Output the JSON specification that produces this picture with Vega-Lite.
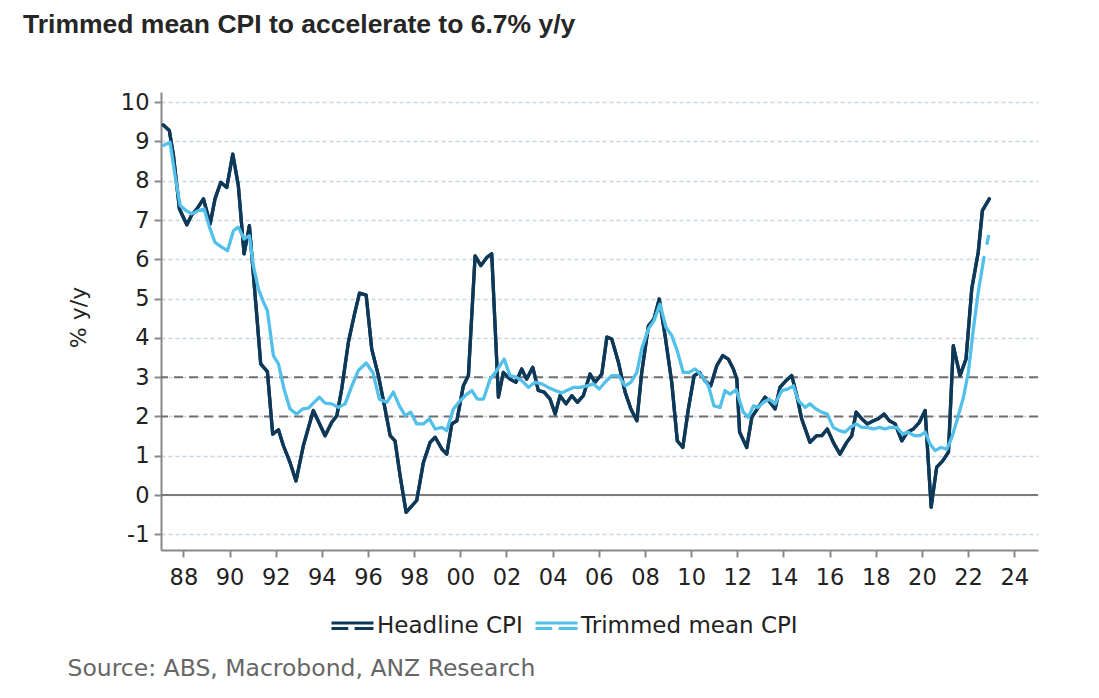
{
  "$schema": "https://vega.github.io/schema/vega-lite/v6.json",
  "width": 877,
  "height": 458,
  "autosize": {"type": "none"},
  "padding": {"left": 161, "top": 92, "right": 61, "bottom": 148},
  "background": "white",
  "config": {"view": {"stroke": null}, "font": "DejaVu Sans"},
  "title": {
    "text": "Trimmed mean CPI to accelerate to 6.7% y/y",
    "anchor": "start",
    "frame": "group",
    "dx": -138,
    "offset": 32,
    "baseline": "alphabetic",
    "font": "Liberation Sans",
    "fontSize": 26.5,
    "fontWeight": "bold",
    "color": "#262626"
  },
  "datasets": {
    "headline": [
      {"t": 1987.13, "v": 9.42}, {"t": 1987.39, "v": 9.28}, {"t": 1987.57, "v": 8.64}, {"t": 1987.83, "v": 7.28},
      {"t": 1988.15, "v": 6.88}, {"t": 1988.36, "v": 7.13}, {"t": 1988.58, "v": 7.28}, {"t": 1988.87, "v": 7.54},
      {"t": 1989.16, "v": 6.90}, {"t": 1989.37, "v": 7.54}, {"t": 1989.62, "v": 7.96}, {"t": 1989.88, "v": 7.83},
      {"t": 1990.14, "v": 8.68}, {"t": 1990.38, "v": 7.88}, {"t": 1990.63, "v": 6.14}, {"t": 1990.86, "v": 6.86},
      {"t": 1991.06, "v": 5.42}, {"t": 1991.18, "v": 4.57}, {"t": 1991.35, "v": 3.34}, {"t": 1991.64, "v": 3.14},
      {"t": 1991.87, "v": 1.55}, {"t": 1992.12, "v": 1.66}, {"t": 1992.33, "v": 1.26}, {"t": 1992.62, "v": 0.83},
      {"t": 1992.88, "v": 0.36}, {"t": 1993.20, "v": 1.26}, {"t": 1993.63, "v": 2.15}, {"t": 1994.14, "v": 1.51},
      {"t": 1994.43, "v": 1.85}, {"t": 1994.65, "v": 2.02}, {"t": 1994.86, "v": 2.70}, {"t": 1995.15, "v": 3.89},
      {"t": 1995.40, "v": 4.57}, {"t": 1995.63, "v": 5.14}, {"t": 1995.92, "v": 5.09}, {"t": 1996.16, "v": 3.72},
      {"t": 1996.45, "v": 3.04}, {"t": 1996.74, "v": 2.19}, {"t": 1996.96, "v": 1.51}, {"t": 1997.17, "v": 1.38},
      {"t": 1997.39, "v": 0.49}, {"t": 1997.65, "v": -0.44}, {"t": 1998.11, "v": -0.14}, {"t": 1998.40, "v": 0.83},
      {"t": 1998.69, "v": 1.34}, {"t": 1998.91, "v": 1.47}, {"t": 1999.20, "v": 1.17}, {"t": 1999.41, "v": 1.04},
      {"t": 1999.63, "v": 1.81}, {"t": 1999.85, "v": 1.89}, {"t": 2000.13, "v": 2.78}, {"t": 2000.35, "v": 3.04},
      {"t": 2000.64, "v": 6.09}, {"t": 2000.89, "v": 5.84}, {"t": 2001.15, "v": 6.05}, {"t": 2001.36, "v": 6.14},
      {"t": 2001.65, "v": 2.49}, {"t": 2001.86, "v": 3.12}, {"t": 2002.15, "v": 2.95}, {"t": 2002.41, "v": 2.87},
      {"t": 2002.66, "v": 3.21}, {"t": 2002.87, "v": 2.95}, {"t": 2003.14, "v": 3.25}, {"t": 2003.38, "v": 2.66},
      {"t": 2003.63, "v": 2.62}, {"t": 2003.89, "v": 2.44}, {"t": 2004.11, "v": 2.06}, {"t": 2004.32, "v": 2.53},
      {"t": 2004.58, "v": 2.32}, {"t": 2004.83, "v": 2.53}, {"t": 2005.07, "v": 2.36}, {"t": 2005.33, "v": 2.53},
      {"t": 2005.62, "v": 3.08}, {"t": 2005.84, "v": 2.87}, {"t": 2006.13, "v": 3.08}, {"t": 2006.35, "v": 4.02},
      {"t": 2006.56, "v": 3.97}, {"t": 2006.85, "v": 3.38}, {"t": 2007.14, "v": 2.62}, {"t": 2007.39, "v": 2.19},
      {"t": 2007.65, "v": 1.89}, {"t": 2007.86, "v": 3.12}, {"t": 2008.15, "v": 4.31}, {"t": 2008.39, "v": 4.48},
      {"t": 2008.62, "v": 4.99}, {"t": 2008.87, "v": 4.06}, {"t": 2009.16, "v": 2.87}, {"t": 2009.40, "v": 1.38},
      {"t": 2009.64, "v": 1.21}, {"t": 2009.88, "v": 2.19}, {"t": 2010.13, "v": 3.04}, {"t": 2010.36, "v": 3.12},
      {"t": 2010.60, "v": 2.91}, {"t": 2010.85, "v": 2.78}, {"t": 2011.11, "v": 3.29}, {"t": 2011.37, "v": 3.55},
      {"t": 2011.61, "v": 3.46}, {"t": 2011.83, "v": 3.21}, {"t": 2011.98, "v": 2.95}, {"t": 2012.10, "v": 1.60},
      {"t": 2012.41, "v": 1.21}, {"t": 2012.63, "v": 1.98}, {"t": 2012.91, "v": 2.23}, {"t": 2013.20, "v": 2.49},
      {"t": 2013.42, "v": 2.36}, {"t": 2013.64, "v": 2.19}, {"t": 2013.85, "v": 2.74}, {"t": 2014.11, "v": 2.91},
      {"t": 2014.36, "v": 3.04}, {"t": 2014.58, "v": 2.53}, {"t": 2014.79, "v": 1.94}, {"t": 2015.15, "v": 1.34},
      {"t": 2015.44, "v": 1.51}, {"t": 2015.66, "v": 1.51}, {"t": 2015.90, "v": 1.68}, {"t": 2016.16, "v": 1.34},
      {"t": 2016.45, "v": 1.04}, {"t": 2016.74, "v": 1.34}, {"t": 2016.96, "v": 1.51}, {"t": 2017.15, "v": 2.11},
      {"t": 2017.39, "v": 1.94}, {"t": 2017.64, "v": 1.81}, {"t": 2017.90, "v": 1.89}, {"t": 2018.11, "v": 1.94},
      {"t": 2018.36, "v": 2.06}, {"t": 2018.59, "v": 1.89}, {"t": 2018.84, "v": 1.81}, {"t": 2019.13, "v": 1.38},
      {"t": 2019.37, "v": 1.60}, {"t": 2019.63, "v": 1.68}, {"t": 2019.89, "v": 1.85}, {"t": 2020.14, "v": 2.15},
      {"t": 2020.40, "v": -0.31}, {"t": 2020.64, "v": 0.71}, {"t": 2020.90, "v": 0.87}, {"t": 2021.15, "v": 1.09},
      {"t": 2021.36, "v": 3.80}, {"t": 2021.65, "v": 3.04}, {"t": 2021.91, "v": 3.46}, {"t": 2022.16, "v": 5.25},
      {"t": 2022.44, "v": 6.18}, {"t": 2022.62, "v": 7.24}, {"t": 2022.92, "v": 7.54}
    ],
    "trimmed": [
      {"t": 1987.13, "v": 8.90}, {"t": 1987.42, "v": 8.98}, {"t": 1987.64, "v": 8.13}, {"t": 1987.86, "v": 7.37},
      {"t": 1988.12, "v": 7.24}, {"t": 1988.36, "v": 7.16}, {"t": 1988.65, "v": 7.24}, {"t": 1988.90, "v": 7.28},
      {"t": 1989.13, "v": 6.82}, {"t": 1989.37, "v": 6.43}, {"t": 1989.66, "v": 6.31}, {"t": 1989.91, "v": 6.22},
      {"t": 1990.17, "v": 6.73}, {"t": 1990.38, "v": 6.82}, {"t": 1990.63, "v": 6.52}, {"t": 1990.86, "v": 6.60},
      {"t": 1991.03, "v": 5.84}, {"t": 1991.25, "v": 5.25}, {"t": 1991.47, "v": 4.91}, {"t": 1991.64, "v": 4.69},
      {"t": 1991.90, "v": 3.55}, {"t": 1992.12, "v": 3.34}, {"t": 1992.36, "v": 2.70}, {"t": 1992.62, "v": 2.19},
      {"t": 1992.91, "v": 2.06}, {"t": 1993.17, "v": 2.19}, {"t": 1993.42, "v": 2.21}, {"t": 1993.63, "v": 2.34},
      {"t": 1993.89, "v": 2.49}, {"t": 1994.14, "v": 2.34}, {"t": 1994.43, "v": 2.32}, {"t": 1994.72, "v": 2.23},
      {"t": 1995.01, "v": 2.32}, {"t": 1995.30, "v": 2.78}, {"t": 1995.58, "v": 3.17}, {"t": 1995.92, "v": 3.36},
      {"t": 1996.21, "v": 3.12}, {"t": 1996.49, "v": 2.44}, {"t": 1996.81, "v": 2.36}, {"t": 1997.10, "v": 2.62},
      {"t": 1997.36, "v": 2.27}, {"t": 1997.61, "v": 2.02}, {"t": 1997.85, "v": 2.11}, {"t": 1998.11, "v": 1.81},
      {"t": 1998.40, "v": 1.81}, {"t": 1998.66, "v": 1.94}, {"t": 1998.91, "v": 1.68}, {"t": 1999.20, "v": 1.72},
      {"t": 1999.41, "v": 1.64}, {"t": 1999.70, "v": 2.19}, {"t": 1999.99, "v": 2.40}, {"t": 2000.28, "v": 2.57},
      {"t": 2000.50, "v": 2.66}, {"t": 2000.74, "v": 2.44}, {"t": 2001.00, "v": 2.44}, {"t": 2001.29, "v": 2.95},
      {"t": 2001.58, "v": 3.17}, {"t": 2001.90, "v": 3.46}, {"t": 2002.15, "v": 3.04}, {"t": 2002.41, "v": 3.00},
      {"t": 2002.66, "v": 2.91}, {"t": 2002.95, "v": 2.74}, {"t": 2003.24, "v": 2.87}, {"t": 2003.53, "v": 2.83},
      {"t": 2003.81, "v": 2.74}, {"t": 2004.11, "v": 2.66}, {"t": 2004.40, "v": 2.60}, {"t": 2004.61, "v": 2.66},
      {"t": 2004.90, "v": 2.74}, {"t": 2005.19, "v": 2.74}, {"t": 2005.48, "v": 2.78}, {"t": 2005.76, "v": 2.83},
      {"t": 2006.02, "v": 2.70}, {"t": 2006.27, "v": 2.87}, {"t": 2006.56, "v": 3.04}, {"t": 2006.85, "v": 3.04},
      {"t": 2007.14, "v": 2.78}, {"t": 2007.39, "v": 2.87}, {"t": 2007.65, "v": 3.12}, {"t": 2007.86, "v": 3.72},
      {"t": 2008.15, "v": 4.23}, {"t": 2008.39, "v": 4.44}, {"t": 2008.65, "v": 4.86}, {"t": 2008.91, "v": 4.27},
      {"t": 2009.16, "v": 4.06}, {"t": 2009.40, "v": 3.67}, {"t": 2009.66, "v": 3.12}, {"t": 2009.92, "v": 3.12},
      {"t": 2010.17, "v": 3.21}, {"t": 2010.46, "v": 3.04}, {"t": 2010.75, "v": 2.78}, {"t": 2010.99, "v": 2.27},
      {"t": 2011.25, "v": 2.23}, {"t": 2011.47, "v": 2.66}, {"t": 2011.69, "v": 2.57}, {"t": 2011.95, "v": 2.68},
      {"t": 2012.26, "v": 2.11}, {"t": 2012.48, "v": 1.98}, {"t": 2012.70, "v": 2.27}, {"t": 2012.91, "v": 2.23},
      {"t": 2013.13, "v": 2.36}, {"t": 2013.39, "v": 2.44}, {"t": 2013.64, "v": 2.32}, {"t": 2013.93, "v": 2.66},
      {"t": 2014.21, "v": 2.70}, {"t": 2014.43, "v": 2.78}, {"t": 2014.65, "v": 2.40}, {"t": 2014.94, "v": 2.23},
      {"t": 2015.15, "v": 2.32}, {"t": 2015.41, "v": 2.19}, {"t": 2015.66, "v": 2.11}, {"t": 2015.90, "v": 2.06},
      {"t": 2016.16, "v": 1.72}, {"t": 2016.42, "v": 1.64}, {"t": 2016.67, "v": 1.60}, {"t": 2016.89, "v": 1.72},
      {"t": 2017.15, "v": 1.81}, {"t": 2017.39, "v": 1.72}, {"t": 2017.64, "v": 1.72}, {"t": 2017.90, "v": 1.68},
      {"t": 2018.16, "v": 1.72}, {"t": 2018.40, "v": 1.68}, {"t": 2018.62, "v": 1.72}, {"t": 2018.91, "v": 1.72},
      {"t": 2019.17, "v": 1.55}, {"t": 2019.41, "v": 1.60}, {"t": 2019.66, "v": 1.51}, {"t": 2019.92, "v": 1.51},
      {"t": 2020.14, "v": 1.60}, {"t": 2020.35, "v": 1.30}, {"t": 2020.57, "v": 1.13}, {"t": 2020.82, "v": 1.21},
      {"t": 2021.08, "v": 1.17}, {"t": 2021.30, "v": 1.47}, {"t": 2021.54, "v": 1.94}, {"t": 2021.80, "v": 2.49},
      {"t": 2022.01, "v": 3.12}, {"t": 2022.23, "v": 4.23}, {"t": 2022.44, "v": 5.16}, {"t": 2022.69, "v": 6.05}
    ],
    "forecast": [
      {"t": 2022.69, "v": 6.05}, {"t": 2022.92, "v": 6.68}
    ]
  },
  "layer": [
    {
      "data": {"name": "headline"},
      "mark": {"type": "line", "strokeWidth": 3.3, "strokeJoin": "round", "strokeCap": "round"},
      "encoding": {
        "x": {
          "field": "t", "type": "quantitative",
          "scale": {"domain": [1987.03, 2025.03], "nice": false, "zero": false},
          "axis": {
            "values": [1988, 1990, 1992, 1994, 1996, 1998, 2000, 2002, 2004, 2006, 2008, 2010, 2012, 2014, 2016, 2018, 2020, 2022, 2024],
            "labelExpr": "substring(toString(datum.value), 2, 4)",
            "grid": false,
            "labelFlush": false,
            "labelOverlap": false,
            "labelFont": "DejaVu Sans",
            "labelFontSize": 22.5,
            "labelColor": "#222222",
            "labelPadding": 9,
            "tickSize": 7,
            "tickWidth": 2,
            "tickColor": "#888888",
            "domainColor": "#888888",
            "domainWidth": 2,
            "title": "Source: ABS, Macrobond, ANZ Research",
            "titleX": -94,
            "titleY": 118,
            "titleAlign": "left",
            "titleBaseline": "middle",
            "titleFont": "DejaVu Sans",
            "titleFontSize": 23.5,
            "titleFontWeight": "normal",
            "titleColor": "#666666"
          }
        },
        "y": {
          "field": "v", "type": "quantitative",
          "scale": {"domain": [-1.4, 10.26], "nice": false, "zero": false},
          "axis": {
            "values": [-1, 0, 1, 2, 3, 4, 5, 6, 7, 8, 9, 10],
            "labelExpr": "toString(datum.value)",
            "grid": true,
            "gridColor": "#c6d6e2",
            "gridDash": [4, 3],
            "gridWidth": 1.5,
            "labelFont": "DejaVu Sans",
            "labelFontSize": 22.5,
            "labelColor": "#222222",
            "labelPadding": 5,
            "tickSize": 7,
            "tickWidth": 2,
            "tickColor": "#888888",
            "domainColor": "#888888",
            "domainWidth": 2,
            "title": "% y/y",
            "titleX": -83,
            "titleY": 225,
            "titleAngle": -90,
            "titleAlign": "center",
            "titleBaseline": "middle",
            "titleFont": "DejaVu Sans",
            "titleFontSize": 22,
            "titleFontWeight": "normal",
            "titleColor": "#222222"
          }
        },
        "color": {
          "datum": "Headline CPI",
          "type": "nominal",
          "scale": {"domain": ["Headline CPI", "Trimmed mean CPI"], "range": ["#0e3858", "#52c0e8"]},
          "legend": {
            "orient": "none",
            "legendX": 169,
            "legendY": 511,
            "direction": "horizontal",
            "title": null,
            "symbolType": "M-1,-0.13H1M-1,0.13H-0.2M0.1,0.13H1",
            "symbolSize": 1764,
            "symbolStrokeWidth": 3,
            "symbolFillColor": "transparent",
            "labelFont": "DejaVu Sans",
            "labelFontSize": 23,
            "labelColor": "#222222",
            "labelOffset": 2,
            "labelLimit": 500,
            "columnPadding": 6
          }
        }
      }
    },
    {
      "data": {"values": [{"v": 2}, {"v": 3}]},
      "mark": {"type": "rule", "strokeDash": [9, 6], "strokeWidth": 2, "color": "#707070"},
      "encoding": {
        "y": {"field": "v", "type": "quantitative", "scale": {"domain": [-1.4, 10.26], "nice": false, "zero": false}}
      }
    },
    {
      "data": {"values": [{"v": 0}]},
      "mark": {"type": "rule", "strokeWidth": 2, "color": "#7a7a7a"},
      "encoding": {
        "y": {"field": "v", "type": "quantitative", "scale": {"domain": [-1.4, 10.26], "nice": false, "zero": false}}
      }
    },
    {
      "data": {"name": "headline"},
      "mark": {"type": "line", "strokeWidth": 3.3, "strokeJoin": "round", "strokeCap": "round"},
      "encoding": {
        "x": {"field": "t", "type": "quantitative", "scale": {"domain": [1987.03, 2025.03], "nice": false, "zero": false}},
        "y": {"field": "v", "type": "quantitative", "scale": {"domain": [-1.4, 10.26], "nice": false, "zero": false}},
        "color": {"datum": "Headline CPI", "type": "nominal"}
      }
    },
    {
      "data": {"name": "trimmed"},
      "mark": {"type": "line", "strokeWidth": 3.3, "strokeJoin": "round", "strokeCap": "round"},
      "encoding": {
        "x": {"field": "t", "type": "quantitative", "scale": {"domain": [1987.03, 2025.03], "nice": false, "zero": false}},
        "y": {"field": "v", "type": "quantitative", "scale": {"domain": [-1.4, 10.26], "nice": false, "zero": false}},
        "color": {"datum": "Trimmed mean CPI", "type": "nominal"}
      }
    },
    {
      "data": {"name": "forecast"},
      "mark": {"type": "line", "strokeWidth": 3.3, "strokeDash": [10, 13], "strokeDashOffset": 10, "color": "#52c0e8"},
      "encoding": {
        "x": {"field": "t", "type": "quantitative", "scale": {"domain": [1987.03, 2025.03], "nice": false, "zero": false}},
        "y": {"field": "v", "type": "quantitative", "scale": {"domain": [-1.4, 10.26], "nice": false, "zero": false}}
      }
    }
  ]
}
